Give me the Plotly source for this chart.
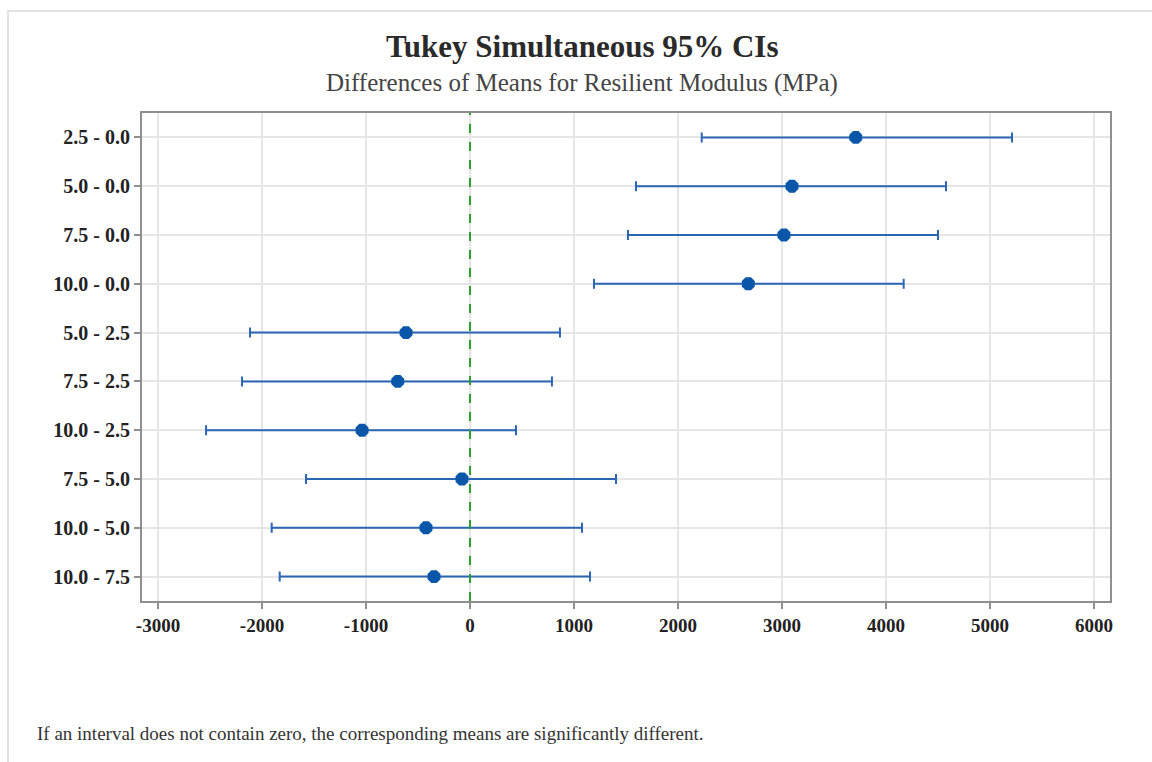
import plotly.graph_objects as go

# Pairwise comparisons (level difference) and Tukey 95% simultaneous intervals
comparisons = ["2.5 - 0.0", "5.0 - 0.0", "7.5 - 0.0", "10.0 - 0.0",
               "5.0 - 2.5", "7.5 - 2.5", "10.0 - 2.5",
               "7.5 - 5.0", "10.0 - 5.0", "10.0 - 7.5"]
diff_mean = [3709, 3096, 3019, 2676, -615, -695, -1038, -77, -423, -346]
lower_ci = [2228, 1596, 1519, 1192, -2115, -2192, -2538, -1577, -1907, -1830]
upper_ci = [5212, 4577, 4500, 4170, 865, 788, 442, 1404, 1077, 1154]

x_ticks = [-3000, -2000, -1000, 0, 1000, 2000, 3000, 4000, 5000, 6000]

serif = "Liberation Serif, Times New Roman, serif"
blue = "#0a56a8"
bar_blue = "#2a66b3"

err_plus = [u - m for u, m in zip(upper_ci, diff_mean)]
err_minus = [m - l for m, l in zip(diff_mean, lower_ci)]

fig = go.Figure()
fig.add_trace(go.Scatter(
    x=diff_mean, y=comparisons, mode="markers",
    marker=dict(symbol="octagon", size=14, color=blue, line=dict(width=0)),
    error_x=dict(type="data", symmetric=False, array=err_plus, arrayminus=err_minus,
                 color=bar_blue, thickness=2, width=5),
    showlegend=False, hoverinfo="x+y",
))

# zero reference line
fig.add_shape(type="line", xref="x", yref="paper", x0=0, x1=0, y0=0, y1=1,
              line=dict(color="#2ca02c", width=2, dash="dash"), layer="above")

# light outer border of the graph region
fig.add_shape(type="rect", xref="paper", yref="paper",
              x0=-142 / 968 + 8 / 968, x1=1.2, y0=-2, y1=(762 - 11 - 161) / 488,
              line=dict(color="#e2e2e2", width=2), fillcolor="rgba(0,0,0,0)", layer="below")

fig.update_layout(
    width=1152, height=762,
    margin=dict(l=142, r=42, t=113, b=161),
    paper_bgcolor="white", plot_bgcolor="white",
    font=dict(family=serif, color="#222"),
    xaxis=dict(range=[-3154, 6154], tickmode="array", tickvals=x_ticks,
               ticktext=[f"<b>{v}</b>" for v in x_ticks],
               tickfont=dict(size=19, family=serif, color="#222"),
               showgrid=True, gridcolor="#e6e6e6", gridwidth=2, zeroline=False,
               showline=True, linecolor="#8f8f8f", linewidth=2, mirror=True,
               ticks="outside", ticklen=6, tickcolor="#8f8f8f", tickwidth=2),
    yaxis=dict(categoryorder="array", categoryarray=comparisons, range=[9.5, -0.5],
               tickmode="array", tickvals=comparisons,
               ticktext=[f"<b>{c}</b>" for c in comparisons],
               tickfont=dict(size=20, family=serif, color="#222"),
               showgrid=True, gridcolor="#e6e6e6", gridwidth=2, zeroline=False,
               showline=True, linecolor="#8f8f8f", linewidth=2, mirror=True,
               ticks="outside", ticklen=6, tickcolor="#8f8f8f", tickwidth=2),
)

fig.add_annotation(text="<b>Tukey Simultaneous 95% CIs</b>", xref="paper", yref="paper",
                   x=(582 - 142) / 968, y=(762 - 161 - 47) / 488, xanchor="center", yanchor="middle",
                   showarrow=False, font=dict(size=31, family=serif, color="#2a2a2a"))
fig.add_annotation(text="Differences of Means for Resilient Modulus (MPa)", xref="paper", yref="paper",
                   x=(582 - 142) / 968, y=(762 - 161 - 83) / 488, xanchor="center", yanchor="middle",
                   showarrow=False, font=dict(size=25, family=serif, color="#444"))
fig.add_annotation(text="If an interval does not contain zero, the corresponding means are significantly different.",
                   xref="paper", yref="paper",
                   x=(35 - 142) / 968, y=(762 - 161 - 733) / 488, xanchor="left", yanchor="middle",
                   showarrow=False, font=dict(size=19, family=serif, color="#333"))

fig.write_html("out.html")
